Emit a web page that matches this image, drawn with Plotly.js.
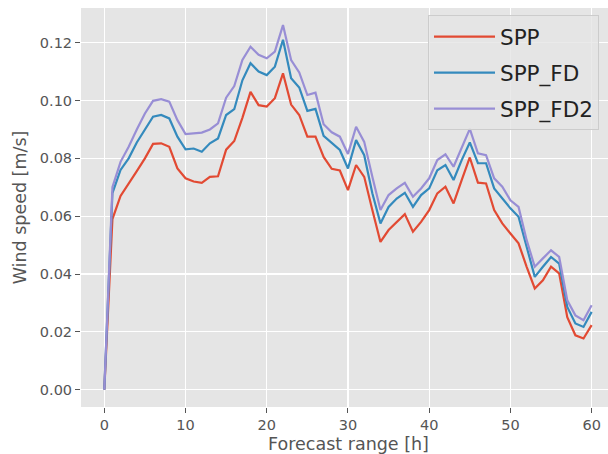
<!DOCTYPE html>
<html>
<head>
<meta charset="utf-8">
<script src="https://cdn.plot.ly/plotly-3.0.1.min.js"></script>
<style>
  html, body { margin: 0; padding: 0; overflow: hidden; background: #fff; }
  #chart { width: 640px; height: 454px; }
</style>
</head>
<body>
<div id="chart"></div>
<script>
// ── Data ──────────────────────────────────────────────────────
var hours = [];
for (var i = 0; i <= 60; i++) hours.push(i);

var spp = [0, 0.059, 0.067, 0.0715, 0.0756, 0.080, 0.085, 0.0852, 0.084, 0.0765,
    0.0731, 0.072, 0.0715, 0.0736, 0.0738, 0.083, 0.086, 0.094, 0.103, 0.0984,
    0.0979, 0.1008, 0.1094, 0.0986, 0.095, 0.0875, 0.0875, 0.0805, 0.0764, 0.0758,
    0.069, 0.0777, 0.0736, 0.0621, 0.0511, 0.0552, 0.058, 0.0607, 0.0546, 0.058,
    0.0621, 0.0679, 0.0702, 0.0644, 0.0725, 0.0803, 0.0716, 0.0713, 0.0621, 0.0575,
    0.054, 0.0506, 0.0425, 0.035, 0.0378, 0.0425, 0.0402, 0.0251, 0.0188, 0.0177,
    0.0223];

var sppFd = [0, 0.068, 0.076, 0.080, 0.0855, 0.090, 0.0944, 0.095, 0.0938, 0.0875,
    0.0831, 0.0834, 0.0823, 0.0852, 0.0869, 0.095, 0.097, 0.107, 0.1129, 0.110,
    0.1088, 0.1117, 0.121, 0.1077, 0.1045, 0.0964, 0.0971, 0.0878, 0.0852, 0.0829,
    0.0765, 0.0863, 0.0811, 0.0679, 0.0575, 0.0632, 0.0661, 0.0681, 0.0632, 0.0673,
    0.0696, 0.0759, 0.0777, 0.0725, 0.0794, 0.0855, 0.0783, 0.0783, 0.0696, 0.0661,
    0.0627, 0.0598, 0.0494, 0.039, 0.0425, 0.0459, 0.0436, 0.0286, 0.0229, 0.0217,
    0.0269];

var sppFd2 = [0, 0.070, 0.0788, 0.084, 0.090, 0.0955, 0.0999, 0.1005, 0.0996, 0.0932,
    0.0884, 0.0886, 0.0889, 0.090, 0.0921, 0.101, 0.105, 0.114, 0.1186, 0.1158,
    0.1146, 0.1169, 0.1261, 0.114, 0.1097, 0.1019, 0.1027, 0.0918, 0.089, 0.0875,
    0.0815, 0.0909, 0.0857, 0.0736, 0.0621, 0.0673, 0.0696, 0.0715, 0.0667, 0.0696,
    0.0731, 0.0794, 0.0814, 0.0771, 0.0834, 0.0902, 0.0817, 0.0811, 0.0731, 0.0702,
    0.0655, 0.0632, 0.0517, 0.0425, 0.0454, 0.0482, 0.0459, 0.0309, 0.0257, 0.024,
    0.0292];

var seriesNames = ['SPP', 'SPP_FD', 'SPP_FD2'];
var xTicks = [0, 10, 20, 30, 40, 50, 60];
var yTicks = [0, 0.02, 0.04, 0.06, 0.08, 0.10, 0.12];

// ── ggplot-ish styling ────────────────────────────────────────
var COLORS = ['#E24A33', '#348ABD', '#988ED5'];
var FONT = 'DejaVu Sans, sans-serif';
var GREY = '#555555';

var traces = [spp, sppFd, sppFd2].map(function (ys, k) {
    return {
        x: hours, y: ys, mode: 'lines', name: seriesNames[k],
        legendgroup: 'g' + k,
        line: { color: COLORS[k], width: 2.2 }
    };
});

function axis(ticks, range, fmt, title) {
    return {
        range: range, tickvals: ticks, tickformat: fmt,
        ticks: 'outside', ticklen: 5, tickwidth: 1, tickcolor: GREY,
        tickfont: { family: FONT, size: 14.5, color: GREY },
        showgrid: true, gridcolor: '#ffffff', gridwidth: 1.2,
        zeroline: false, showline: false,
        title: { text: title, font: { family: FONT, size: 17.5, color: GREY } }
    };
}

var layout = {
    width: 640, height: 454,
    margin: { l: 81, r: 24, t: 8, b: 47 },
    paper_bgcolor: '#ffffff', plot_bgcolor: '#E5E5E5',
    xaxis: axis(xTicks, [-2.87, 63], 'd', 'Forecast range [h]'),
    yaxis: axis(yTicks, [-0.006, 0.132], '.2f', 'Wind speed [m/s]'),
    showlegend: true,
    legend: {
        x: 0.6486, xanchor: 'left', y: 0.982, yanchor: 'top',
        itemwidth: 61, tracegroupgap: 5,
        bgcolor: 'rgba(229,229,229,0.8)', bordercolor: '#cccccc', borderwidth: 1,
        font: { family: FONT, size: 21.5, color: '#222222' }
    }
};
layout.xaxis.title.standoff = 6;
layout.yaxis.title.standoff = 8;

Plotly.newPlot('chart', traces, layout, { displayModeBar: false, staticPlot: true });
</script>
</body>
</html>
